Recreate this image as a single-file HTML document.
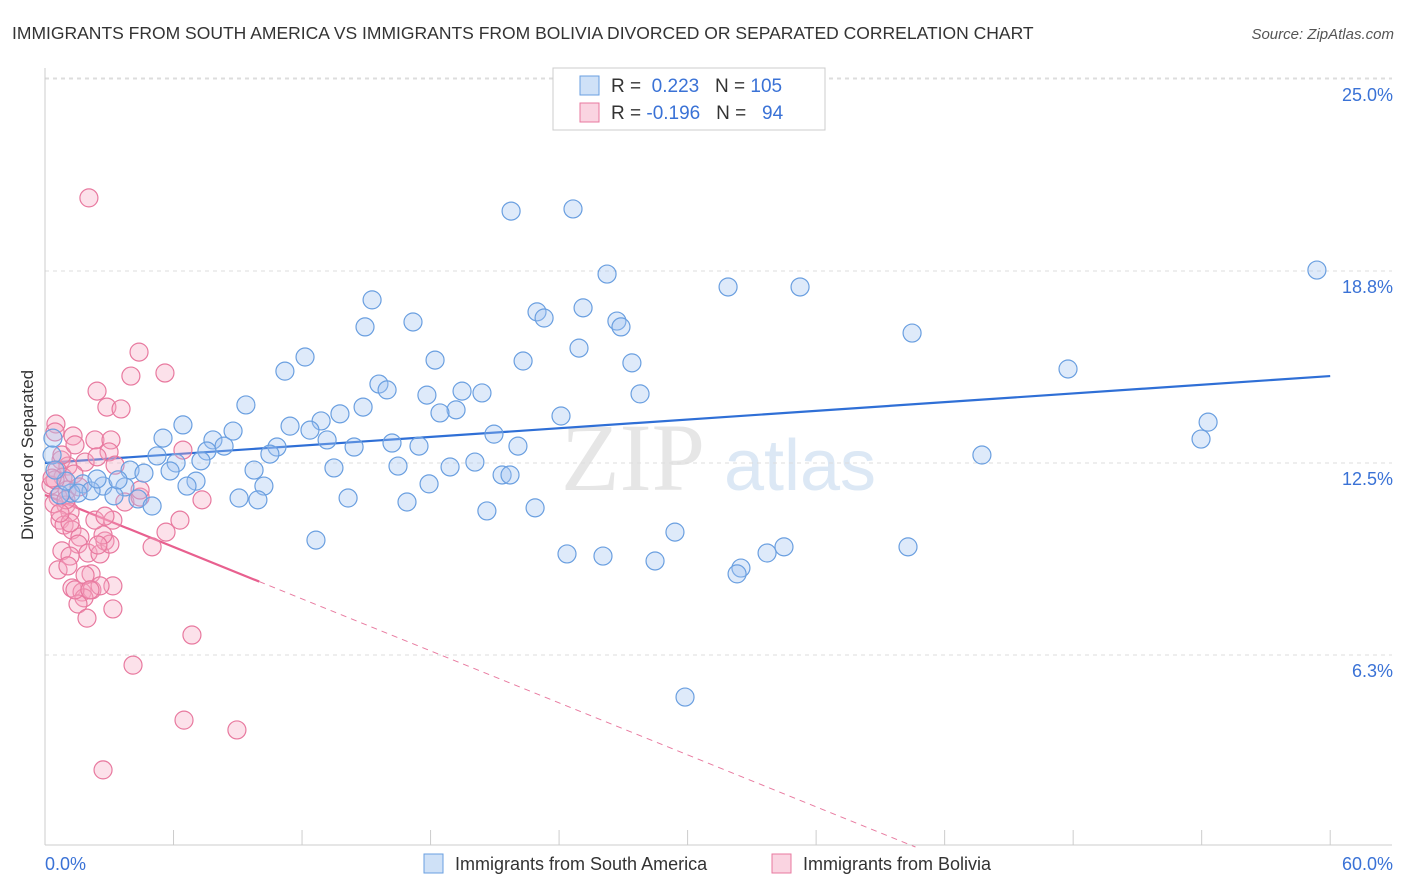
<!DOCTYPE html>
<html><head><meta charset="utf-8"><style>
body{margin:0;background:#fff;font-family:"Liberation Sans",sans-serif;}
svg{display:block}
</style></head><body>
<svg id="chart" width="1406" height="892" xmlns="http://www.w3.org/2000/svg">
<text x="12" y="39" font-size="17.5" fill="#333">IMMIGRANTS FROM SOUTH AMERICA VS IMMIGRANTS FROM BOLIVIA DIVORCED OR SEPARATED CORRELATION CHART</text>
<text x="1394" y="39" font-size="15" fill="#555" font-style="italic" text-anchor="end">Source: ZipAtlas.com</text>
<text x="33" y="455" font-size="17" fill="#333" text-anchor="middle" transform="rotate(-90 33 455)">Divorced or Separated</text>
<g><text x="633" y="490" font-size="96" fill="#e6e6e6" font-family="Liberation Serif,serif" text-anchor="middle">ZIP</text><text x="800" y="490" font-size="72" fill="#dce8f5" text-anchor="middle">atlas</text></g>
<g id="grid"></g><g id="axes"></g><g id="trend"></g><g id="pts"></g>
<g>
<rect x="553" y="68" width="272" height="62" fill="#fff" stroke="#ccc"/>
<rect x="580" y="76" width="19" height="19" fill="rgba(160,195,240,0.5)" stroke="#6a9fe0"/>
<text x="611" y="92" font-size="19" fill="#333">R = <tspan fill="#3a72d6">&#160;0.223</tspan>&#160;&#160;&#160;N = <tspan fill="#3a72d6">105</tspan></text>
<rect x="580" y="103" width="19" height="19" fill="rgba(245,170,195,0.5)" stroke="#e8799f"/>
<text x="611" y="119" font-size="19" fill="#333">R = <tspan fill="#3a72d6">-0.196</tspan>&#160;&#160;&#160;N = <tspan fill="#3a72d6">&#160;&#160;94</tspan></text>
</g>
<g>
<rect x="424" y="854" width="19" height="19" fill="rgba(160,195,240,0.5)" stroke="#6a9fe0"/>
<text x="455" y="870" font-size="18" fill="#333">Immigrants from South America</text>
<rect x="772" y="854" width="19" height="19" fill="rgba(245,170,195,0.5)" stroke="#e8799f"/>
<text x="803" y="870" font-size="18" fill="#333">Immigrants from Bolivia</text>
</g>
</svg>
<script>
const blueX=[21.76,24.65,59.38,26.24,31.89,35.25,15.27,22.97,23.30,25.12,26.70,26.89,17.18,14.94,40.48,24.93,12.14,18.21,22.32,27.40,11.20,47.76,15.59,15.97,19.47,20.40,17.83,27.78,9.38,14.85,19.19,18.44,13.77,24.09,12.89,54.30,6.44,11.44,12.37,8.78,53.97,5.51,20.96,13.17,7.84,16.20,17.46,8.36,10.83,14.43,22.08,7.56,10.50,5.23,43.74,0.33,7.28,6.12,20.07,16.48,18.91,13.49,9.76,3.97,4.62,5.84,21.34,21.71,7.05,6.63,17.93,10.22,3.73,2.71,1.77,1.21,2.15,9.06,9.94,14.15,16.90,4.34,3.22,5.00,20.63,22.88,12.65,29.41,24.37,26.05,33.71,34.50,40.29,28.48,32.49,32.31,29.88,0.70,0.98,0.47,1.54,2.43,3.41,0.37];
const blueY=[20.70,20.77,18.78,18.65,18.23,18.23,17.81,17.42,17.22,17.55,17.12,16.93,17.09,16.93,16.73,16.24,15.95,15.85,15.82,15.76,15.49,15.56,15.07,14.88,14.84,14.78,14.71,14.75,14.39,14.32,14.23,14.13,14.10,14.03,13.87,13.83,13.74,13.70,13.57,13.54,13.28,13.31,13.44,13.25,13.25,13.15,13.05,13.05,13.02,13.02,13.05,12.89,12.79,12.73,12.76,12.76,12.57,12.50,12.53,12.40,12.37,12.34,12.27,12.27,12.17,12.24,12.11,12.11,11.91,11.75,11.82,11.75,11.72,11.75,11.82,11.52,11.59,11.36,11.30,11.36,11.23,11.33,11.43,11.10,10.94,11.04,9.99,10.25,9.54,9.47,9.57,9.77,9.77,9.31,9.08,8.89,4.88,11.46,11.91,12.27,11.52,11.98,11.95,13.31];
const pinkX=[2.05,4.39,5.60,4.01,2.43,2.89,3.55,0.51,1.31,2.33,3.08,6.44,2.99,0.75,1.07,1.87,0.56,0.84,0.28,1.35,1.03,0.61,0.98,0.42,1.17,0.70,0.89,1.26,1.63,1.54,0.79,1.17,2.01,2.57,2.80,3.03,2.71,3.17,3.73,4.44,5.00,6.30,5.65,7.33,0.61,1.07,2.15,1.26,1.73,2.19,1.82,1.54,1.96,3.17,3.17,2.57,6.86,4.11,6.49,8.96,2.71,1.40,0.98,0.47,0.79,1.40,3.27,2.33,1.87,1.17,2.43,0.70,0.33,1.59,4.44,2.80,2.47,2.10,0.47];
const pinkY=[21.13,16.11,15.43,15.33,14.84,14.32,14.26,13.77,13.38,13.25,13.25,12.92,12.86,12.60,12.40,12.53,12.27,12.04,11.78,12.14,11.62,11.39,11.13,11.17,10.90,10.64,10.48,10.32,10.09,9.86,9.64,9.47,9.57,9.54,9.96,9.86,10.16,10.64,11.23,11.39,9.77,10.64,10.25,11.30,9.02,9.15,8.89,8.43,8.30,8.37,8.11,7.91,7.45,8.50,7.75,8.50,6.90,5.92,4.13,3.81,2.51,8.37,11.30,11.95,12.76,13.09,12.43,10.64,8.85,10.55,12.70,10.87,12.01,11.72,11.62,10.77,9.83,8.37,13.51];
const yTicks=[25.0,18.8,12.5,6.3];
const yTickVals=[25,18.75,12.5,6.25];
const xTicks=[0,6,12,18,24,30,36,42,48,54,60];
const blueTrend=[12.5,15.33];
const pinkTrend=[11.46,-0.282];
const NS="http://www.w3.org/2000/svg";
const sx=v=>45+v*21.42, sy=v=>847-v*30.72;
function mk(tag,attrs,parent){const e=document.createElementNS(NS,tag);for(const k in attrs)e.setAttribute(k,attrs[k]);document.getElementById(parent).appendChild(e);return e;}
yTickVals.forEach((v,i)=>{
 const g=mk('line',{x1:45,x2:1392,y1:sy(v),y2:sy(v),stroke:'#ddd','stroke-dasharray':'4,4'},'grid');
 
 
 const t=mk('text',{x:1393,y:sy(v)+22,'font-size':18,fill:'#3a72d6','text-anchor':'end'},'grid');
 t.textContent=yTicks[i].toFixed(1)+'%';
 
 
});
const tg=mk('line',{x1:45,x2:1392,y1:78,y2:78,stroke:'#ddd','stroke-dasharray':'4,4'},'grid');
mk('line',{x1:45,x2:45,y1:68,y2:845,stroke:'#ccc'},'axes');
mk('line',{x1:45,x2:1392,y1:845,y2:845,stroke:'#ccc'},'axes');
xTicks.forEach(v=>{
 const l=mk('line',{x1:sx(v),x2:sx(v),y1:830,y2:845,stroke:'#ccc'},'axes');
 
 
});
const x0=mk('text',{x:45,y:870,'font-size':18,fill:'#3a72d6'},'axes');x0.textContent='0.0%';


const x1=mk('text',{x:1393,y:870,'font-size':18,fill:'#3a72d6','text-anchor':'end'},'axes');x1.textContent='60.0%';


function dots(X,Y,fill,stroke,name){X.forEach((x,i)=>{
 const c=mk('circle',{cx:sx(x),cy:sy(Y[i]),r:9,fill:fill,stroke:stroke,'stroke-width':1.2},'pts');
 
 
});}
dots(pinkX,pinkY,'rgba(245,170,195,0.35)','#e8799f','bolivia-point');
dots(blueX,blueY,'rgba(160,195,240,0.35)','#6a9fe0','south-america-point');
const bt=mk('line',{x1:sx(0),y1:sy(blueTrend[0]),x2:sx(60),y2:sy(blueTrend[1]),stroke:'#2f6fd6','stroke-width':2.2},'trend');


const pe=-pinkTrend[0]/pinkTrend[1];
const ps=mk('line',{x1:sx(0),y1:sy(pinkTrend[0]),x2:sx(10),y2:sy(pinkTrend[0]+pinkTrend[1]*10),stroke:'#e8608f','stroke-width':2.2},'trend');


const pd=mk('line',{x1:sx(10),y1:sy(pinkTrend[0]+pinkTrend[1]*10),x2:sx(pe),y2:sy(0),stroke:'#e8799f','stroke-width':1,'stroke-dasharray':'6,5'},'trend');


</script>
</body></html>
